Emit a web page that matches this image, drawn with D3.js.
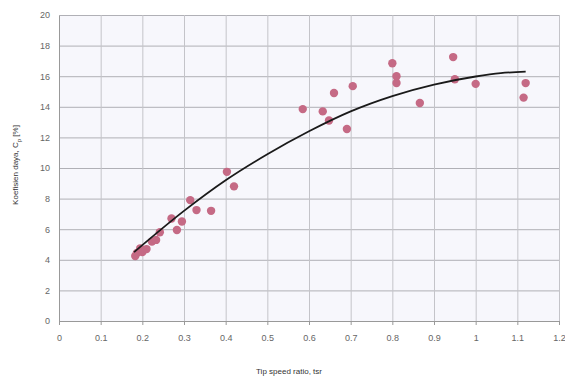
<!DOCTYPE html>
<html>
<head>
<meta charset="utf-8">
<script src="https://cdn.jsdelivr.net/npm/d3@7"></script>
<style>
  body { margin: 0; background: #fff; }
  svg text { font-family: "Liberation Sans", Arial, sans-serif; }
</style>
</head>
<body>
<div id="chart"></div>
<script>
// measured points (tsr, Cp %)
const tsrValues = [0.183, 0.187, 0.195, 0.2, 0.21, 0.223, 0.233, 0.242, 0.27, 0.283, 0.295, 0.315, 0.33, 0.365,
    0.403, 0.42, 0.585, 0.633, 0.648, 0.66, 0.691, 0.705, 0.80, 0.81, 0.81, 0.866, 0.946, 0.95, 1.0, 1.115, 1.12];
const cpValues = [4.25, 4.45, 4.75, 4.5, 4.7, 5.2, 5.3, 5.8, 6.7, 5.95, 6.5, 7.9, 7.25, 7.2,
    9.75, 8.8, 13.85, 13.7, 13.1, 14.9, 12.55, 15.35, 16.85, 16.0, 15.55, 14.25, 17.25, 15.8, 15.5, 14.6, 15.55];

// trend line
const trendX = [0.18, 0.3, 0.4, 0.5, 0.6, 0.7, 0.8, 0.9, 1.0, 1.06, 1.12];
const trendY = [4.5, 7.2, 9.2, 10.9, 12.4, 13.7, 14.7, 15.45, 15.98, 16.2, 16.3];

const xTicks = [0, 0.1, 0.2, 0.3, 0.4, 0.5, 0.6, 0.7, 0.8, 0.9, 1, 1.1, 1.2];
const yTicks = [0, 2, 4, 6, 8, 10, 12, 14, 16, 18, 20];

const margin = { top: 15, right: 6, bottom: 60, left: 59 },
    width = 565 - margin.left - margin.right,
    height = 381 - margin.top - margin.bottom;

const svg = d3.select("#chart").append("svg")
    .attr("width", 565)
    .attr("height", 381);

const g = svg.append("g")
    .attr("transform", `translate(${margin.left},${margin.top})`);

const x = d3.scaleLinear().domain([0, 1.2]).range([0, width]);
const y = d3.scaleLinear().domain([0, 20]).range([height, 0]);

g.append("rect")
    .attr("width", width)
    .attr("height", height)
    .attr("fill", "#f7f7fc");

// grid
g.append("g")
    .call(d3.axisLeft(y).tickValues(yTicks).tickSize(-width).tickFormat(""))
    .call(a => a.select(".domain").remove())
    .selectAll("line").attr("stroke", "#b0b0b6");

g.append("g")
    .attr("transform", `translate(0,${height})`)
    .call(d3.axisBottom(x).tickValues(xTicks).tickSize(-height).tickFormat(""))
    .call(a => a.select(".domain").remove())
    .selectAll("line").attr("stroke", "#c4c4c9");

// axes
const xAxis = g.append("g")
    .attr("transform", `translate(0,${height})`)
    .call(d3.axisBottom(x).tickValues(xTicks).tickSize(4).tickPadding(10)
        .tickFormat(d => String(d)));
xAxis.select(".domain").attr("stroke", "#999");
xAxis.selectAll("line").attr("stroke", "#999");
xAxis.selectAll("text").attr("fill", "#666").style("font-size", "9px");

const yAxis = g.append("g")
    .call(d3.axisLeft(y).tickValues(yTicks).tickSize(0).tickPadding(9));
yAxis.select(".domain").attr("stroke", "#999");
yAxis.selectAll("text").attr("fill", "#666").style("font-size", "9px");

// points
const points = tsrValues.map((t, i) => ({ t, cp: cpValues[i] }));
g.selectAll("circle.pt")
    .data(points)
    .enter().append("circle")
    .attr("class", "pt")
    .attr("cx", d => x(d.t))
    .attr("cy", d => y(d.cp))
    .attr("r", 4.2)
    .attr("fill", "#c56a85");

// trend line
const trend = trendX.map((t, i) => [t, trendY[i]]);
g.append("path")
    .datum(trend)
    .attr("fill", "none")
    .attr("stroke", "#1a1a1a")
    .attr("stroke-width", 1.8)
    .attr("d", d3.line().x(d => x(d[0])).y(d => y(d[1])).curve(d3.curveMonotoneX));

// titles
svg.append("text")
    .attr("x", margin.left + width / 2 - 20)
    .attr("y", 374)
    .attr("text-anchor", "middle")
    .attr("fill", "#333")
    .style("font-size", "8px")
    .text("Tip speed ratio, tsr");

svg.append("text")
    .attr("transform", `translate(18,${margin.top + 150}) rotate(-90)`)
    .attr("text-anchor", "middle")
    .attr("fill", "#333")
    .style("font-size", "8px")
    .html("Koefisien daya, C<tspan baseline-shift=\"sub\" font-size=\"6px\">p</tspan> [%]");
</script>
</body>
</html>
